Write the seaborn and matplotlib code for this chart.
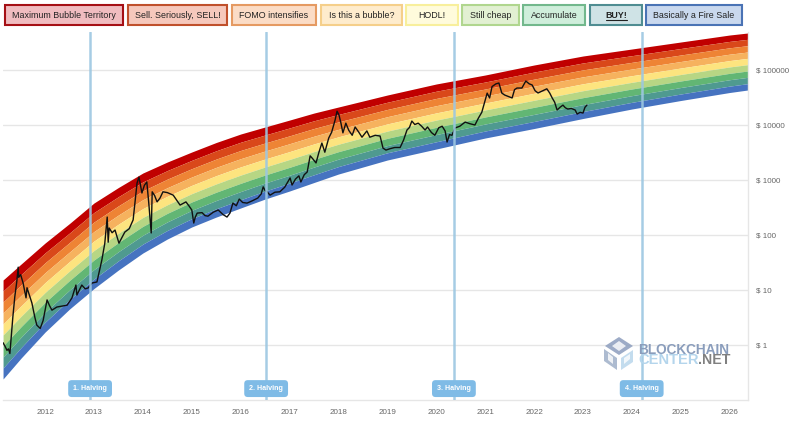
import numpy as np
import pandas as pd
import matplotlib
matplotlib.use('Agg')
import matplotlib.pyplot as plt
import seaborn as sns
from matplotlib.patches import Polygon, Rectangle

# rainbow outline
band_years = [2011.14, 2011.51, 2012, 2012.5, 2013, 2013.5, 2014, 2014.5, 2015, 2015.5, 2016, 2016.5,
              2017, 2017.5, 2018, 2018.5, 2019, 2020, 2021, 2022, 2023, 2024, 2025, 2026, 2026.37]
rainbow_top = [15.2, 29.7, 71.5, 162, 382, 731, 1340, 2125, 3230, 4810, 6860, 9200,
               12300, 16500, 21250, 27300, 35100, 55700, 81100, 123300, 179700, 240900, 322900, 432900, 470700]
rainbow_bottom = [0.241, 0.58, 1.72, 4.51, 10.65, 23.1, 47.1, 84.6, 140, 212, 310, 451,
                  631, 901, 1285, 1723, 2310, 3660, 5800, 8630, 13130, 19540, 27890, 38990, 43290]
band_colors = ['#c00000', '#d9481a', '#ee8435', '#f6b25e', '#fde47f',
               '#b7d684', '#62b674', '#4f9a90', '#4673c0']

btc_years = [2011.14, 2011.18, 2011.22, 2011.25, 2011.28, 2011.34, 2011.38, 2011.42, 2011.45, 2011.46,
             2011.50, 2011.55, 2011.61, 2011.63, 2011.68, 2011.73, 2011.79, 2011.83, 2011.90, 2011.96,
             2012.04, 2012.09, 2012.14, 2012.24, 2012.35, 2012.45, 2012.55, 2012.63, 2012.65, 2012.75,
             2012.82, 2012.88, 2012.96, 2013.06, 2013.16, 2013.22, 2013.27, 2013.29, 2013.31, 2013.37,
             2013.43, 2013.51, 2013.57, 2013.63, 2013.72, 2013.80, 2013.88, 2013.92, 2013.98, 2014.03,
             2014.08, 2014.12, 2014.17, 2014.19, 2014.24, 2014.29, 2014.35, 2014.41, 2014.50, 2014.62,
             2014.69, 2014.76, 2014.82, 2014.88, 2014.94, 2015.00, 2015.04, 2015.07, 2015.11, 2015.21,
             2015.27, 2015.33, 2015.44, 2015.54, 2015.64, 2015.72, 2015.78, 2015.84, 2015.91, 2015.97,
             2016.04, 2016.13, 2016.24, 2016.35, 2016.42, 2016.46, 2016.50, 2016.54, 2016.60, 2016.70,
             2016.80, 2016.90, 2017.01, 2017.05, 2017.12, 2017.19, 2017.23, 2017.30, 2017.36, 2017.42,
             2017.47, 2017.54, 2017.60, 2017.66, 2017.72, 2017.80, 2017.86, 2017.93, 2017.97, 2018.01,
             2018.05, 2018.09, 2018.15, 2018.21, 2018.28, 2018.34, 2018.41, 2018.48, 2018.58, 2018.64,
             2018.75, 2018.85, 2018.91, 2018.97, 2019.05, 2019.15, 2019.26, 2019.33, 2019.40, 2019.45,
             2019.50, 2019.56, 2019.63, 2019.70, 2019.77, 2019.82, 2019.90, 2019.97, 2020.05, 2020.12,
             2020.18, 2020.22, 2020.27, 2020.32, 2020.38, 2020.48, 2020.59, 2020.68, 2020.79, 2020.86,
             2020.93, 2021.04, 2021.09, 2021.14, 2021.22, 2021.28, 2021.34, 2021.40, 2021.47, 2021.55,
             2021.60, 2021.65, 2021.75, 2021.83, 2021.90, 2021.96, 2022.02, 2022.08, 2022.18, 2022.26,
             2022.32, 2022.37, 2022.42, 2022.47, 2022.53, 2022.59, 2022.64, 2022.69, 2022.76, 2022.84,
             2022.88, 2022.94, 2023.00, 2023.04, 2023.08]
btc_price = [1.1, 0.95, 0.8, 0.85, 0.7, 3.2, 7.5, 14, 26, 17,
             19, 13.4, 7.2, 11, 8, 5.8, 3.2, 2.3, 2.0, 2.8,
             6.6, 5.2, 4.3, 4.9, 5.1, 5.3, 7.2, 12.3, 8.1, 12.3,
             10.5, 10.9, 13.4, 14, 35, 70, 212, 74, 134, 110,
             123, 71, 90, 113, 130, 188, 880, 1130, 580, 800,
             920, 380, 109, 610, 520, 400, 470, 610, 590, 530,
             430, 350, 375, 400, 340, 285, 165, 210, 250, 255,
             225, 220, 260, 285, 235, 212, 250, 380, 340, 450,
             390, 380, 420, 470, 560, 750, 640, 610, 530, 600,
             610, 740, 1090, 810, 1040, 1190, 920, 1250, 1400, 2750,
             2450, 2040, 3200, 4700, 3200, 5800, 7400, 12300, 17800, 15200,
             10800, 7200, 10800, 8000, 6500, 9200, 7500, 6000, 7800, 6000,
             6500, 6300, 3800, 3500, 3700, 3900, 3900, 5300, 8100, 9000,
             11800, 10200, 10800, 9500, 8100, 9200, 7300, 6500, 8900, 9500,
             7800, 4900, 6700, 6500, 8800, 9500, 11300, 10600, 10000, 13300,
             17000, 38000, 31000, 50000, 56000, 58000, 38000, 35000, 33000, 31000,
             44000, 47000, 47000, 63000, 56000, 53400, 42000, 38200, 42000, 45500,
             38000, 31000, 26000, 18700, 21000, 23000, 20500, 19500, 20000, 18700,
             15800, 17000, 16500, 21000, 23000]

halving_years = [2012.92, 2016.52, 2020.36, 2024.2]
halving_labels = ['1. Halving', '2. Halving', '3. Halving', '4. Halving']
x_ticks = list(range(2012, 2027))
y_ticks = [1, 10, 100, 1000, 10000, 100000]
y_labels = ['$ 1', '$ 10', '$ 100', '$ 1000', '$ 10000', '$ 100000']

legend_labels = ['Maximum Bubble Territory', 'Sell. Seriously, SELL!', 'FOMO intensifies', 'Is this a bubble?',
                 'HODL!', 'Still cheap', 'Accumulate', 'BUY!', 'Basically a Fire Sale']
legend_left = [5, 128, 232, 321, 406, 462, 523, 590, 646]
legend_right = [123, 227, 316, 402, 458, 519, 585, 642, 742]
legend_fill = ['#f0bcc0', '#f6c8bc', '#fbdcc6', '#feeccd', '#fffbdc', '#e2f0d2', '#cfeedb', '#cfe3e6', '#c9d8ee']
legend_edge = ['#a50f15', '#c0502c', '#e59a62', '#f5cf8a', '#f8ef9c', '#b0d68e', '#72b88c', '#4f8d92', '#4a73b5']

sns.set_theme(style='white')
plt.rcParams['font.family'] = ['Liberation Sans', 'DejaVu Sans']

fig = plt.figure(figsize=(8, 4.32), dpi=100)
ax = fig.add_axes([3 / 800, 32 / 432, 745 / 800, 368 / 432])
ax.set_yscale('log')

# nine equal bands between the two outlines, top one first
edges = np.geomspace(rainbow_top, rainbow_bottom, 10)
for i, color in enumerate(band_colors):
    ax.fill_between(band_years, edges[i + 1], edges[i], color=color, lw=0, zorder=2)

df = pd.DataFrame({'year': btc_years, 'price': btc_price})
sns.lineplot(data=df, x='year', y='price', color='#111111', lw=1.0, ax=ax, zorder=4, errorbar=None)

for yr, lab in zip(halving_years, halving_labels):
    ax.axvline(yr, color='#9cc7e2', lw=1.8, alpha=0.9, zorder=5)
    ax.text(yr, 0.031, lab, transform=ax.get_xaxis_transform(), ha='center', va='center',
            color='white', fontsize=5.1, fontweight='bold', zorder=6,
            bbox=dict(boxstyle='round,pad=0.7,rounding_size=0.5', fc='#7fbbe6', ec='none'))

ax.set_xlim(2011.139, 2026.374)
ax.set_ylim(0.1, 10 ** (313 / 55))
ax.set_xticks(x_ticks)
ax.set_xticklabels([str(t) for t in x_ticks])
ax.yaxis.tick_right()
ax.set_yticks(y_ticks)
ax.set_yticklabels(y_labels)
ax.minorticks_off()
ax.tick_params(length=0, labelsize=5.8, labelcolor='#666666')
ax.tick_params(axis='x', pad=6.5)
ax.tick_params(axis='y', pad=6)
ax.set_xlabel('')
ax.set_ylabel('')
ax.grid(axis='y', color='#e6e6e6', lw=1)
ax.set_axisbelow(True)
for side in ['top', 'left']:
    ax.spines[side].set_visible(False)
for side in ['bottom', 'right']:
    ax.spines[side].set_color('#e6e6e6')
    ax.spines[side].set_linewidth(1)

# page furniture, in pixels
ui = fig.add_axes([0, 0, 1, 1], zorder=10)
ui.set_xlim(0, 800)
ui.set_ylim(432, 0)
ui.axis('off')
ui.patch.set_alpha(0)

for lab, l, r, fc, ec in zip(legend_labels, legend_left, legend_right, legend_fill, legend_edge):
    ui.add_patch(Rectangle((l, 4.5), r - l, 20.5, fc=fc, ec=ec, lw=1.5))
    bold = lab == 'BUY!'
    ui.text((l + r) / 2, 15, lab, ha='center', va='center', fontsize=6.4, color='#222222',
            fontweight='bold' if bold else 'normal')
    if bold:
        ui.plot([(l + r) / 2 - 10.5, (l + r) / 2 + 10.5], [19.5, 19.5], color='#222222', lw=0.8)

# watermark
ui.add_patch(Polygon([(605, 346), (619, 337), (633, 346), (619, 355)], fc='#8c9dbd', ec='none', alpha=0.85))
ui.add_patch(Polygon([(604, 349), (617, 358), (617, 370), (604, 361)], fc='#9fb0c8', ec='none', alpha=0.85))
ui.add_patch(Polygon([(621, 358), (633, 350), (633, 362), (621, 370)], fc='#b9d6ec', ec='none', alpha=0.85))
ui.add_patch(Polygon([(612, 346), (619, 341), (626, 346), (619, 351)], fc='white', ec='none', alpha=0.8))
ui.add_patch(Polygon([(608, 353), (613, 357), (613, 364), (608, 360)], fc='white', ec='none', alpha=0.8))
ui.add_patch(Polygon([(624, 358), (630, 354), (630, 359), (624, 364)], fc='white', ec='none', alpha=0.8))
ui.text(638, 349.5, 'BLOCKCHAIN', fontsize=9.85, fontweight='bold', color='#8a9dbc', ha='left', va='center')
ui.text(638, 360.5, 'CENTER', fontsize=10.6, fontweight='bold', color='#b4d5ec', ha='left', va='center')
ui.text(698, 360.5, '.NET', fontsize=10.2, fontweight='bold', color='#808080', ha='left', va='center')

fig.savefig('out.png', dpi=100)
